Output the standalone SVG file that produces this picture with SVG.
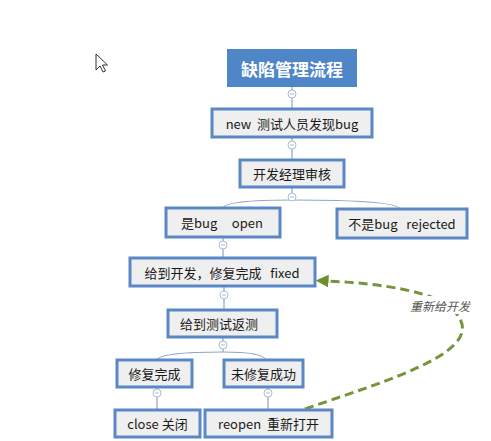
<svg xmlns="http://www.w3.org/2000/svg" width="491" height="441" viewBox="0 0 491 441">
<defs>
<style>
.box{fill:#efefef;stroke:#5a87c6;stroke-width:3}
.t{font-family:"Noto Sans CJK SC","Microsoft YaHei",sans-serif;font-size:13px;fill:#1a1a1a;text-anchor:middle;dominant-baseline:central}
.ln{fill:none;stroke:#8ea6c8;stroke-width:1.2}
.tog{fill:#fff;stroke:#a9bcd6;stroke-width:1}
.tm{stroke:#a9bcd6;stroke-width:1}
</style>
<marker id="ah" viewBox="0 0 10 10" refX="2" refY="5" markerWidth="4.3" markerHeight="4.3" orient="auto-start-reverse" markerUnits="strokeWidth">
<path d="M0,0 L10,5 L0,10 z" fill="#6f8f2f"/>
</marker>
</defs>
<rect width="491" height="441" fill="#fff"/>
<g id="cursor"><path d="M96,54 L96,70 L100,66 L103,72 L105.5,71 L102.5,65 L107.5,65 Z" fill="#fff" stroke="#333" stroke-width="1"/></g>
<g id="connectors">
<path class="ln" d="M292,87 V109 M292,137 V160 M292,187 V200"/>
<path class="ln" d="M223,208 Q226,200 292,200 M400,209 Q397,200 292,200"/>
<path class="ln" d="M223,237 V258 M224,286 V310 M223,337 V352"/>
<path class="ln" d="M157,360 Q160,352 223,352 M266,360 Q263,352 223,352"/>
<path class="ln" d="M157,387 V410 M268,387 V410"/>
<g>
<circle class="tog" cx="292" cy="94" r="4"/><line class="tm" x1="290" y1="94" x2="294" y2="94"/>
<circle class="tog" cx="292" cy="145" r="4"/><line class="tm" x1="290" y1="145" x2="294" y2="145"/>
<circle class="tog" cx="292" cy="197" r="4"/><line class="tm" x1="290" y1="197" x2="294" y2="197"/>
<circle class="tog" cx="223" cy="245" r="4"/><line class="tm" x1="221" y1="245" x2="225" y2="245"/>
<circle class="tog" cx="224" cy="295" r="4"/><line class="tm" x1="222" y1="295" x2="226" y2="295"/>
<circle class="tog" cx="223" cy="345" r="4"/><line class="tm" x1="221" y1="345" x2="225" y2="345"/>
<circle class="tog" cx="157" cy="393" r="4"/><line class="tm" x1="155" y1="393" x2="159" y2="393"/>
<circle class="tog" cx="268" cy="393" r="4"/><line class="tm" x1="266" y1="393" x2="270" y2="393"/>
</g>
<path d="M305,409 C395,378 490,350 455,312 C440,292 380,283 326,281" fill="none" stroke="#77933c" stroke-width="3" stroke-dasharray="9,5" marker-end="url(#ah)"/>
<rect x="406" y="296" width="68" height="18" fill="#fff"/>
<text x="440" y="305" font-family="'Noto Sans CJK SC',sans-serif" font-size="12" font-style="italic" fill="#555" text-anchor="middle" dominant-baseline="central">重新给开发</text>
</g>
<g id="title"><rect x="227" y="49" width="130" height="38" fill="#4f86c8"/><text x="292" y="68" font-family="'Noto Sans CJK SC',sans-serif" font-size="17" font-weight="bold" fill="#fff" text-anchor="middle" dominant-baseline="central">缺陷管理流程</text></g>
<g id="n_new"><rect class="box" x="212" y="109" width="160" height="28"/><text class="t" x="292" y="123" xml:space="preserve">new  测试人员发现bug</text></g>
<g id="n_review"><rect class="box" x="240" y="160" width="104" height="27"/><text class="t" x="292" y="173.5">开发经理审核</text></g>
<g id="n_open"><rect class="box" x="166" y="208" width="114" height="29"/><text class="t" x="222" y="222.5" xml:space="preserve">是bug     open</text></g>
<g id="n_rejected"><rect class="box" x="337" y="209" width="130" height="29"/><text class="t" x="402" y="223.5" xml:space="preserve">不是bug   rejected</text></g>
<g id="n_fixed"><rect class="box" x="130" y="258" width="185" height="28"/><text class="t" x="222" y="272" xml:space="preserve">给到开发，修复完成   fixed</text></g>
<g id="n_retest"><rect class="box" x="168" y="310" width="109" height="27"/><text class="t" x="219" y="323.5">给到测试返测</text></g>
<g id="n_done"><rect class="box" x="117" y="360" width="75" height="27"/><text class="t" x="154.5" y="373.5">修复完成</text></g>
<g id="n_notdone"><rect class="box" x="224" y="360" width="79" height="27"/><text class="t" x="263.5" y="373.5">未修复成功</text></g>
<g id="n_close"><rect class="box" x="115" y="410" width="85" height="27"/><text class="t" x="157.5" y="423.5">close 关闭</text></g>
<g id="n_reopen"><rect class="box" x="205" y="410" width="127" height="27"/><text class="t" x="268.5" y="423.5" xml:space="preserve">reopen  重新打开</text></g>
</svg>
